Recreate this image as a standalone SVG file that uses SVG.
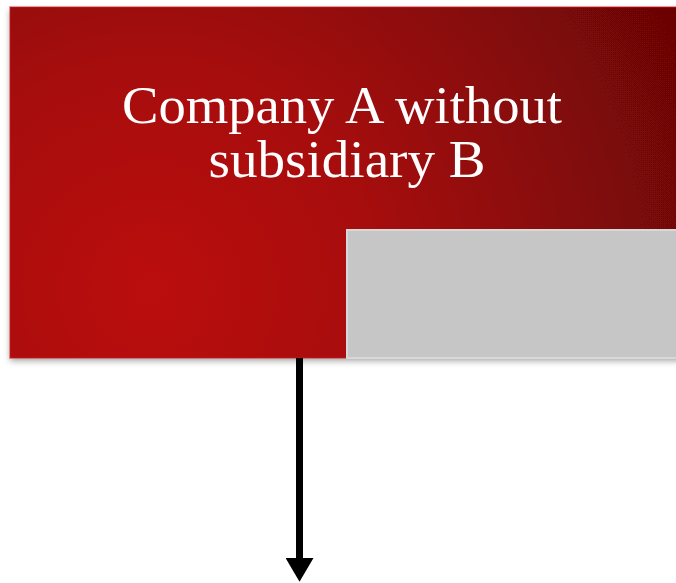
<svg xmlns="http://www.w3.org/2000/svg" width="676" height="583" viewBox="0 0 676 583">
<defs>
<radialGradient id="red" gradientUnits="userSpaceOnUse" cx="150" cy="290" r="580">
<stop offset="0" stop-color="#bb0c0a"/>
<stop offset="0.4" stop-color="#a60a0a"/>
<stop offset="1" stop-color="#6c0606"/>
</radialGradient>
<filter id="sh" x="-5%" y="-5%" width="110%" height="115%">
<feDropShadow dx="0" dy="3" stdDeviation="3" flood-color="#000" flood-opacity="0.35"/>
</filter>
<marker id="ah" markerWidth="4" markerHeight="4" refX="0" refY="2" orient="auto" markerUnits="strokeWidth">
<path d="M0,0 L3.4,2 L0,4 Z" fill="#000"/>
</marker>
<style>
.t{font-family:"Liberation Serif","Times New Roman",serif;font-size:52px;fill:#fff;text-anchor:middle}
</style>
</defs>
<g id="companyA">
<rect x="10" y="7" width="680" height="351" fill="url(#red)" filter="url(#sh)"/>
<rect x="10" y="7" width="680" height="351" fill="none" stroke="#d01818" stroke-opacity="0.4" stroke-width="2"/>
<text class="t" x="342" y="123" textLength="440" lengthAdjust="spacingAndGlyphs">Company A without</text>
<text class="t" x="347" y="177" textLength="277" lengthAdjust="spacingAndGlyphs">subsidiary B</text>
</g>
<g id="subsidiary">
<rect x="347" y="230" width="340" height="128" fill="#c6c6c6" stroke="#d8d8d8" stroke-width="2"/>
</g>
<g id="connectors">
<line x1="299.5" y1="358" x2="299.5" y2="558" stroke="#000" stroke-width="7" marker-end="url(#ah)"/>
</g>
</svg>
